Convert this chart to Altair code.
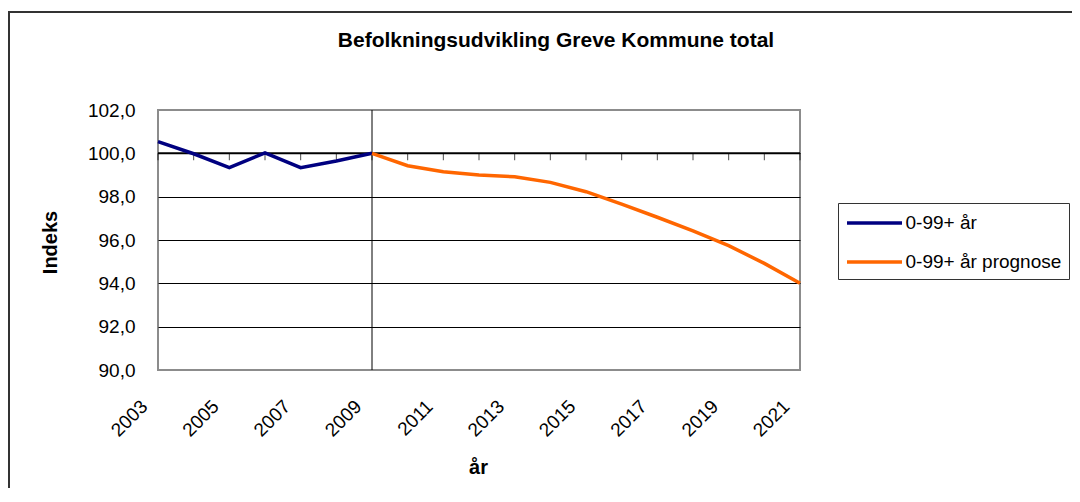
import altair as alt
import pandas as pd

# ---- data ----
years_hist = [2003, 2004, 2005, 2006, 2007, 2008, 2009]
values_hist = [100.54, 99.98, 99.34, 100.02, 99.34, 99.65, 100.0]
years_prog = [2009, 2010, 2011, 2012, 2013, 2014, 2015, 2016, 2017, 2018, 2019, 2020, 2021]
values_prog = [100.0, 99.43, 99.15, 99.0, 98.92, 98.66, 98.23, 97.66, 97.05, 96.42, 95.74, 94.92, 94.0]
series_names = ["0-99+ år", "0-99+ år prognose"]
series_colors = ["#000080", "#FF6600"]
x_tick_years = [2003, 2005, 2007, 2009, 2011, 2013, 2015, 2017, 2019, 2021]
all_years = list(range(2003, 2022))
y_ticks = [90, 92, 94, 96, 98, 100, 102]
base_value = [100.0]
split_year = [2009]
chart_title = "Befolkningsudvikling Greve Kommune total"

FONT = "Liberation Sans"

df = pd.concat([
    pd.DataFrame({"år": years_hist, "Indeks": values_hist, "serie": series_names[0]}),
    pd.DataFrame({"år": years_prog, "Indeks": values_prog, "serie": series_names[1]}),
], ignore_index=True)

x_scale = alt.Scale(domain=[2003, 2021], nice=False, zero=False)
y_scale = alt.Scale(domain=[90, 102], nice=False, zero=False)

one = pd.DataFrame({"k": [0]})

# outer chart frame (decorative)
frame = alt.Chart(one).mark_rect(fillOpacity=0, stroke="#333333", strokeWidth=2, clip=False).encode(
    x=alt.value(-149), x2=alt.value(2000), y=alt.value(-98), y2=alt.value(1000)
)

title_mark = alt.Chart(one).mark_text(
    text=chart_title, font=FONT, fontSize=21, fontWeight="bold", baseline="middle", align="center", color="black"
).encode(x=alt.value(398), y=alt.value(-69))

lines = alt.Chart(df).mark_line(strokeWidth=3.5).encode(
    x=alt.X("år:Q", scale=x_scale, axis=alt.Axis(
        values=x_tick_years, format="d", labelAngle=-45, labelAlign="right", labelBaseline="middle",
        labelPadding=33, labelOffset=-14, labelFontSize=19, labelFont=FONT, labelColor="black",
        grid=False, ticks=False, domain=False,
        title="år", titleFont=FONT, titleFontSize=20, titleFontWeight="bold", titleColor="black",
        titleX=320, titleY=97, titleBaseline="middle", titleAlign="center")),
    y=alt.Y("Indeks:Q", scale=y_scale, axis=alt.Axis(
        values=y_ticks, labelExpr="replace(format(datum.value, '.1f'), '.', ',')",
        labelFontSize=19, labelFont=FONT, labelColor="black", labelPadding=23,
        ticks=False, domain=False, grid=True, gridColor="black", gridWidth=1,
        gridOpacity={"condition": {"test": "datum.value == 90 || datum.value == 102", "value": 0}, "value": 1},
        title="Indeks", titleFont=FONT, titleFontSize=20, titleFontWeight="bold", titleColor="black",
        titleAngle=-90, titleX=-108, titleY=132, titleAlign="center", titleBaseline="middle")),
    color=alt.Color("serie:N", scale=alt.Scale(domain=series_names, range=series_colors), legend=alt.Legend(
        title=None, orient="none", legendX=680, legendY=93, strokeColor="#333333", fillColor="white",
        padding=7, symbolType="M-2.5,0H2.5", symbolSize=484, symbolStrokeWidth=3.5, symbolOffset=16.5,
        labelFontSize=19, labelFont=FONT, labelColor="black", labelLimit=400, labelOffset=18, rowPadding=16)),
)

base_rule = alt.Chart(pd.DataFrame({"Indeks": base_value})).mark_rule(color="black", strokeWidth=2).encode(
    y=alt.Y("Indeks:Q", scale=y_scale)
)

cat_ticks = alt.Chart(pd.DataFrame({"år": all_years, "Indeks": base_value * len(all_years)})).mark_tick(
    orient="vertical", size=7, thickness=1, yOffset=3.5, color="black"
).encode(x=alt.X("år:Q", scale=x_scale), y=alt.Y("Indeks:Q", scale=y_scale))

split_rule = alt.Chart(pd.DataFrame({"år": split_year})).mark_rule(color="black", strokeWidth=1).encode(
    x=alt.X("år:Q", scale=x_scale)
)

chart = alt.layer(frame, title_mark, base_rule, cat_ticks, split_rule, lines).properties(
    width=642, height=260,
    padding={"left": 150, "top": 102, "right": 272, "bottom": 118},
    autosize=alt.AutoSizeParams(type="none"),
    background="white",
).configure_view(stroke="#8c8c8c", strokeWidth=2)

chart.save("out.html", embed_options={"renderer": "svg", "actions": False})
